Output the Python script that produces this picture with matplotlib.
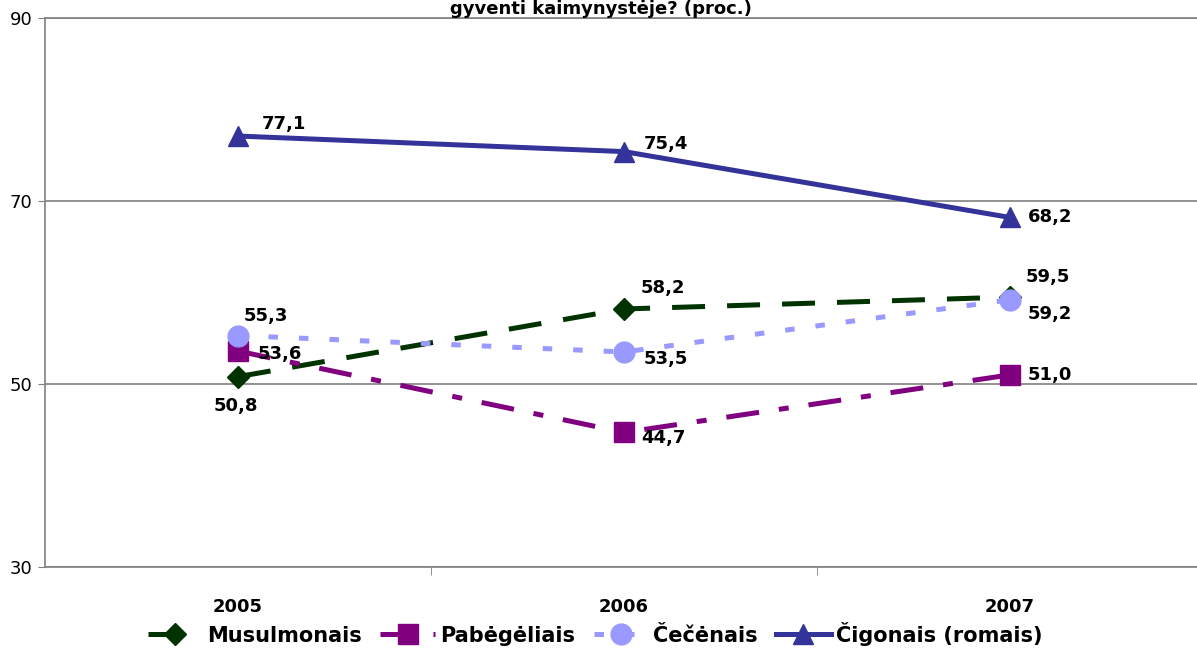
import matplotlib.pyplot as plt
import numpy as np

# --- duomenys ---
years = ['2005', '2006', '2007']
musulmonais = [50.8, 58.2, 59.5]
pabegeliai = [53.6, 44.7, 51.0]
cecenai = [55.3, 53.5, 59.2]
cigonai = [77.1, 75.4, 68.2]

plt.rcParams['font.family'] = ['DejaVu Sans']

fig = plt.figure(figsize=(11.97, 6.54), dpi=100)
ax = fig.add_axes([45 / 1197, 1 - 567 / 654, 1158 / 1197, 549 / 654])

x = np.arange(len(years))
lw = 3.6

ax.plot(x, musulmonais, color='#003300', lw=lw, dashes=(6.6, 4.4), marker='D',
        ms=11, label='Musulmonais', zorder=3)
ax.plot(x, pabegeliai, color='#800080', lw=lw, dashes=(6.6, 4, 2, 4), marker='s',
        ms=14, label='Pabėgėliais', zorder=3)
ax.plot(x, cecenai, color='#9999FF', lw=lw, dashes=(1.9, 4.2), marker='o',
        ms=15, label='Čečėnais', zorder=3)
ax.plot(x, cigonai, color='#333399', lw=lw, marker='^',
        ms=14, label='Čigonais (romais)', zorder=3)

lbl = dict(fontsize=13, fontweight='bold', color='black')
fmt = lambda v: f'{v:.1f}'.replace('.', ',')
# (series, index, dx px, dy px, ha, va)
offs = [
    (cigonai, 0, 24, 12, 'left', 'center'),
    (cigonai, 1, 20, 8, 'left', 'center'),
    (cigonai, 2, 18, 0, 'left', 'center'),
    (musulmonais, 0, -2, -29, 'center', 'center'),
    (musulmonais, 1, 17, 21, 'left', 'center'),
    (musulmonais, 2, 16, 20, 'left', 'center'),
    (pabegeliai, 0, 20, -3, 'left', 'center'),
    (pabegeliai, 1, 17, -6, 'left', 'center'),
    (pabegeliai, 2, 18, 0, 'left', 'center'),
    (cecenai, 0, 6, 20, 'left', 'center'),
    (cecenai, 1, 20, -7, 'left', 'center'),
    (cecenai, 2, 18, -14, 'left', 'center'),
]
for s, i, dx, dy, ha, va in offs:
    ax.annotate(fmt(s[i]), (x[i], s[i]), xytext=(dx * 0.72, dy * 0.72),
                textcoords='offset points', ha=ha, va=va, **lbl)

ax.set_xlim(-0.5, 2.5)
ax.set_ylim(30, 90)
ax.set_yticks([30, 50, 70, 90])
ax.tick_params(axis='y', labelsize=13, length=5, color='#808080', pad=4)
ax.yaxis.grid(True, color='#808080', lw=1.2)
ax.set_axisbelow(True)

ax.set_xticks(x)
ax.set_xticklabels(years, fontsize=13, fontweight='bold')
ax.set_xticks([0.5, 1.5], minor=True)
ax.tick_params(axis='x', which='major', length=0, pad=22)
ax.tick_params(axis='x', which='minor', length=6, color='#808080')

ax.spines['right'].set_visible(False)
for side in ['top', 'left', 'bottom']:
    ax.spines[side].set_color('#808080')
for sp in ax.spines.values():
    sp.set_linewidth(1.2)

# pavadinimas - matoma tik apatine eilute
fig.text(601, 654 - 14, 'gyventi kaimynystėje? (proc.)', transform=None,
         ha='center', va='baseline', fontsize=13, fontweight='bold')

leg = fig.legend(loc='lower center', bbox_to_anchor=(0.497, -0.016), ncol=4,
                 frameon=False, prop={'size': 15, 'weight': 'bold'},
                 handlelength=2.6, columnspacing=0.9, handletextpad=0.25)

fig.savefig('out.png', dpi=100)
